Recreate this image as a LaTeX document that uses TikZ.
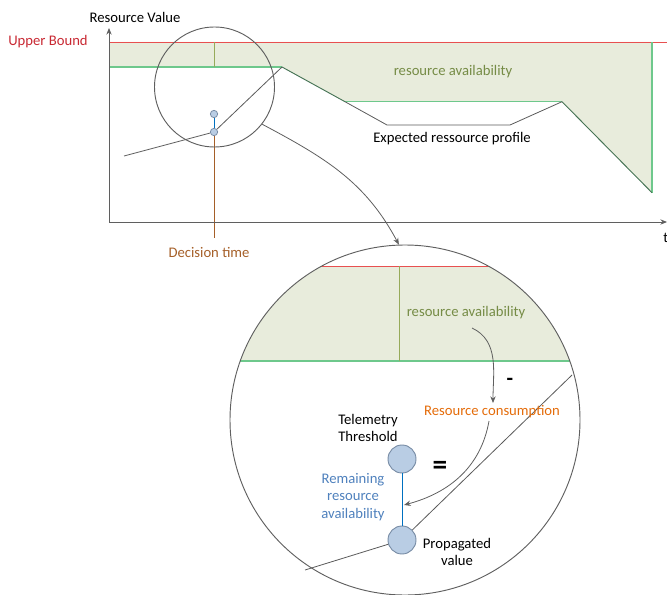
\documentclass[tikz,border=0pt]{standalone}
\usepackage{fontspec}
\setmainfont{Carlito}
\usetikzlibrary{arrows.meta}
\definecolor{axisgray}{RGB}{95,95,95}
\definecolor{redline}{RGB}{232,80,80}
\definecolor{redtext}{RGB}{200,40,50}
\definecolor{greenline}{RGB}{110,200,140}
\definecolor{darkgreen}{RGB}{70,115,85}
\definecolor{shadec}{RGB}{232,236,220}
\definecolor{olivetext}{RGB}{118,140,70}
\definecolor{oliveline}{RGB}{150,170,90}
\definecolor{orangec}{RGB}{228,108,10}
\definecolor{brownc}{RGB}{165,95,40}
\definecolor{bluetext}{RGB}{79,129,189}
\definecolor{blueline}{RGB}{0,112,192}
\definecolor{nodefill}{RGB}{185,205,228}
\definecolor{nodeedge}{RGB}{120,140,165}
\definecolor{profilec}{RGB}{90,90,90}
\begin{document}
\begin{tikzpicture}[x=0.75pt,y=-0.75pt,
  font=\fontsize{11}{13}\selectfont,
  lbl/.style={inner sep=0pt, align=center},
  thinline/.style={line width=0.6pt},
  greenl/.style={draw=greenline, line width=1.1pt},
  redl/.style={draw=redline, line width=0.6pt},
  dgreen/.style={draw=darkgreen, line width=0.7pt},
  profile/.style={draw=profilec, line width=0.6pt},
  lens/.style={circle, draw=axisgray, line width=0.7pt, inner sep=0pt},
  bubble/.style={circle, draw=nodeedge, fill=nodefill, minimum size=21pt, inner sep=0pt, line width=0.7pt},
  dotnode/.style={circle, draw=nodeedge, fill=nodefill, minimum size=5.5pt, inner sep=0pt, line width=0.6pt},
  tipc/.style={-{Stealth[length=5pt,width=4pt]}},
]
\useasboundingbox (0,0) rectangle (667,595);

% ---------- top chart coordinates ----------
\coordinate (O) at (109,222);
\coordinate (ytop) at (109,28);
\coordinate (xend) at (667,222);
\coordinate (A0) at (109,42);
\coordinate (A1) at (109,67);
\coordinate (P1) at (282,67);
\coordinate (P2) at (345,101.7);
\coordinate (P3) at (562,101.7);
\coordinate (P4) at (652,192.7);
\coordinate (P5) at (652,42);
\coordinate (R1) at (667,42);
\coordinate (Q0) at (124,156);
\coordinate (Q3) at (387,125);
\coordinate (Q4) at (510,125);
\coordinate (V1) at (214,42);
\coordinate (V2) at (214,67);
\coordinate (dtl) at (214,238);

% shading
\fill[shadec] (A0) -- (A1) -- (P1) -- (P2) -- (P3) -- (P4) -- (P5) -- cycle;
% boundary lines
\draw[redl] (A0) -- (R1);
\draw[greenl] (A1) -- (P1);
\draw[greenl] (P2) -- (P3);
\draw[greenl] (P4) -- (P5);
\draw[draw=oliveline, thinline] (V1) -- (V2);
\draw[dgreen] (P1) -- (P2);
\draw[dgreen] (P3) -- (P4);

% dots
\node[dotnode] (d1) at (214,114) {};
\node[dotnode] (d2) at (214,132) {};
% profile
\draw[profile] (Q0) -- (d2);
\draw[profile] (d2) -- (P1);
\draw[profile] (P2) -- (Q3) -- (Q4) -- (P3);
\draw[blueline, line width=0.6pt] (d1) -- (d2);
\draw[brownc, line width=0.7pt] (d2) -- (dtl);

% axes
\draw[axisgray, line width=0.7pt, tipc] (O) -- (ytop);
\draw[axisgray, line width=0.7pt, tipc] (O) -- (xend);

% labels
\node[lbl] (rv) at (135,17) {Resource Value};
\node[lbl, text=redtext] (ub) at (48,42) {Upper Bound};
\node[lbl, text=brownc] (dt) at (209,252) {Decision time};
\node[lbl, text=olivetext] (ra1) at (453,72) {resource availability};
\node[lbl] (erp) at (452,139) {Expected ressource profile};
\node[lbl, anchor=west] (tl) at (663,238) {t};

% small lens
\node[lens, minimum size=90pt] (zc) at (214.5,87) {};

% ---------- big lens ----------
\coordinate (bcc) at (405,420);
\begin{scope}
  \clip (bcc) circle[radius=175];
  \fill[shadec] (200,266) rectangle (620,361);
  \draw[redl] (200,266) -- (620,266);
  \draw[greenl] (200,361) -- (620,361);
  \draw[draw=oliveline, thinline] (399,266) -- (399,361);
\end{scope}
\node[lens, minimum size=262.5pt] (bc) at (bcc) {};

% arrow from small lens to big lens
\draw[axisgray, thinline, tipc] (zc.-38) to[out=-28, in=118] (bc.92);

% bubbles
\node[bubble] (n1) at (402,459) {};
\node[bubble] (n2) at (402,540) {};
\coordinate (bl0) at (305,570);
\coordinate (bl1) at (572,375);
\draw[profile] (bl0) -- (n2);
\draw[profile] (n2) -- (bl1);
\draw[blueline, line width=0.6pt] (n1) -- (n2);

% labels in big lens
\node[lbl, text=olivetext] (ra2) at (466,313) {resource availability};
\node[lbl, text=orangec] (rc) at (492,412) {Resource consumption};
\node[lbl, font=\fontsize{16}{16}\selectfont\bfseries] (mn) at (510,382) {-};
\node[lbl, font=\fontsize{22}{22}\selectfont\bfseries] (eq) at (440,468) {=};
\node[lbl] (tt) at (368,428) {Telemetry\\Threshold};
\node[lbl, text=bluetext] (rem) at (353,497) {Remaining\\resource\\availability};
\node[lbl] (pv) at (457,552) {Propagated\\value};

% curved arrows
\coordinate (a1s) at (472,328);
\coordinate (a1e) at (493,403);
\coordinate (a2s) at (489,421);
\coordinate (a2e) at (404,505);
\draw[axisgray, thinline, tipc] (a1s) to[out=-25, in=90] (a1e);
\draw[axisgray, thinline, tipc] (a2s) to[out=-100, in=15] (a2e);
\end{tikzpicture}
\end{document}
